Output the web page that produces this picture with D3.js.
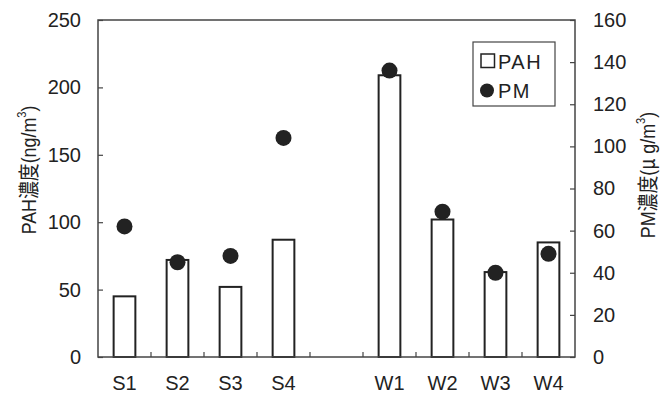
<!DOCTYPE html>
<html>
<head>
<meta charset="utf-8">
<script src="https://cdn.jsdelivr.net/npm/d3@7"></script>
<style>
  body { margin: 0; background: #fff; }
  text { font-family: "Liberation Sans", Arial, sans-serif; fill: #222; }
</style>
</head>
<body>
<div id="chart"></div>
<script>
// categories (the empty slot between seasons is kept as a gap)
const slots = ['S1', 'S2', 'S3', 'S4', 'gap', 'W1', 'W2', 'W3', 'W4'];
const sites = ['S1', 'S2', 'S3', 'S4', 'W1', 'W2', 'W3', 'W4'];
// PAH concentration (ng/m3), left axis
const pahValues = [45, 72, 52, 87, 209, 102, 63, 85];
// PM concentration (ug/m3), right axis
const pmValues = [62, 45, 48, 104, 136, 69, 40, 49];
const leftTicks = [0, 50, 100, 150, 200, 250];
const rightTicks = [0, 20, 40, 60, 80, 100, 120, 140, 160];

const W = 663, H = 397;
const margin = { top: 20, right: 88, bottom: 40, left: 98 };
const width = W - margin.left - margin.right;
const height = H - margin.top - margin.bottom;

const svg = d3.select('#chart').append('svg')
  .attr('width', W).attr('height', H);

const g = svg.append('g')
  .attr('transform', `translate(${margin.left},${margin.top})`);

// scales
const x = d3.scaleBand().domain(slots).range([0, width]).padding(0);
const yL = d3.scaleLinear().domain([0, 250]).range([height, 0]);
const yR = d3.scaleLinear().domain([0, 160]).range([height, 0]);
const barW = x.bandwidth() * 0.41;

// bars
g.append('g').selectAll('rect')
  .data(sites)
  .enter()
  .append('rect')
  .attr('x', (d) => x(d) + (x.bandwidth() - barW) / 2)
  .attr('y', (d, i) => yL(pahValues[i]))
  .attr('width', barW)
  .attr('height', (d, i) => height - yL(pahValues[i]))
  .attr('fill', '#fff')
  .attr('stroke', '#222')
  .attr('stroke-width', 2);

// PM points
g.append('g').selectAll('circle')
  .data(sites)
  .enter()
  .append('circle')
  .attr('cx', (d) => x(d) + x.bandwidth() / 2)
  .attr('cy', (d, i) => yR(pmValues[i]))
  .attr('r', 8)
  .attr('fill', '#222');

// frame
g.append('rect')
  .attr('width', width).attr('height', height)
  .attr('fill', 'none').attr('stroke', '#444').attr('stroke-width', 1.5);

// left axis (ticks inward)
const axL = g.append('g')
  .call(d3.axisLeft(yL).tickValues(leftTicks).tickSize(-5).tickPadding(17));
// right axis (ticks inward)
const axR = g.append('g')
  .attr('transform', `translate(${width},0)`)
  .call(d3.axisRight(yR).tickValues(rightTicks).tickSize(-5).tickPadding(18));
// bottom axis: labels at band centres, ticks at band boundaries
const axB = g.append('g')
  .attr('transform', `translate(0,${height})`)
  .call(d3.axisBottom(x).tickValues(sites).tickSize(0).tickPadding(19));

g.append('g').selectAll('line')
  .data(slots.slice(1))
  .enter()
  .append('line')
  .attr('x1', (d) => x(d)).attr('x2', (d) => x(d))
  .attr('y1', height).attr('y2', height - 5)
  .attr('stroke', '#444').attr('stroke-width', 1.2);

[axL, axR, axB].forEach((a) => {
  a.select('.domain').remove();
  a.selectAll('line').attr('stroke', '#444').attr('stroke-width', 1.2);
  a.selectAll('text')
    .attr('font-family', '"Liberation Sans", Arial, sans-serif')
    .attr('font-size', '20px')
    .attr('fill', '#222');
});

// axis titles (glyphs are a bit condensed along the text direction)
const cjk = '"Noto Sans CJK JP", sans-serif';
const tl = svg.append('text')
  .attr('transform', 'translate(36,170) rotate(-90) scale(0.85,1)')
  .attr('text-anchor', 'middle')
  .attr('font-size', '21px');
tl.append('tspan').text('PAH');
tl.append('tspan').attr('font-family', cjk).text('濃度');
tl.append('tspan').text('(ng/m');
tl.append('tspan').attr('font-size', '13px').attr('dy', -10).text('3');
tl.append('tspan').attr('dy', 10).text(')');

const tr = svg.append('text')
  .attr('transform', 'translate(655,175) rotate(-90) scale(0.85,1)')
  .attr('text-anchor', 'middle')
  .attr('font-size', '21px');
tr.append('tspan').text('PM');
tr.append('tspan').attr('font-family', cjk).text('濃度');
tr.append('tspan').text('(');
tr.append('tspan').attr('font-family', cjk).text('μ');
tr.append('tspan').text(' g/m');
tr.append('tspan').attr('font-size', '13px').attr('dy', -10).text('3');
tr.append('tspan').attr('dy', 10).text(')');

// legend
const lg = svg.append('g').attr('transform', 'translate(473,42)');
lg.append('rect')
  .attr('width', 82).attr('height', 64)
  .attr('fill', '#fff').attr('stroke', '#444').attr('stroke-width', 1.2);
lg.append('rect')
  .attr('x', 8).attr('y', 12).attr('width', 13.5).attr('height', 13.5)
  .attr('fill', '#fff').attr('stroke', '#222').attr('stroke-width', 1.5);
lg.append('text')
  .attr('x', 25).attr('y', 26.5)
  .attr('font-size', '20px').attr('letter-spacing', '1.5px')
  .text('PAH');
lg.append('circle')
  .attr('cx', 14).attr('cy', 48.5).attr('r', 7).attr('fill', '#222');
lg.append('text')
  .attr('x', 25).attr('y', 56)
  .attr('font-size', '20px').attr('letter-spacing', '1.5px')
  .text('PM');
</script>
</body>
</html>
